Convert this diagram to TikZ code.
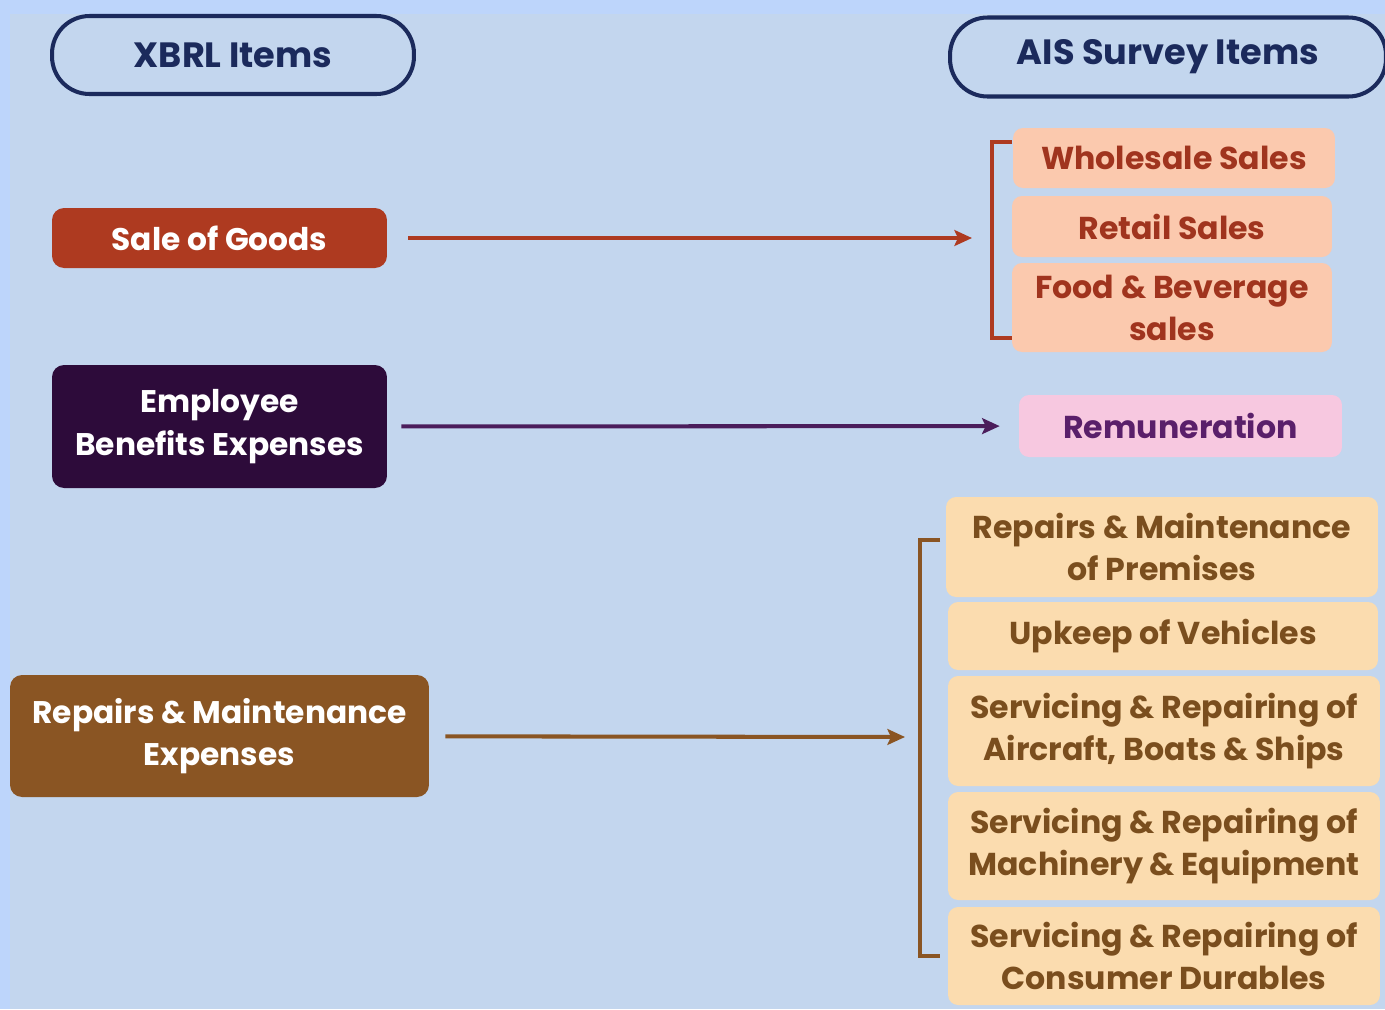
\documentclass[tikz,border=0pt]{standalone}
\usepackage{fontspec}
\setmainfont{Poppins}
\usetikzlibrary{arrows.meta}

\definecolor{skyback}{HTML}{BDD5FB}
\definecolor{panel}{HTML}{C3D6EE}
\definecolor{navy}{HTML}{1B2A5C}
\definecolor{goodsred}{HTML}{AE3A20}
\definecolor{peach}{HTML}{FBC9AE}
\definecolor{peachtext}{HTML}{A0341E}
\definecolor{plum}{HTML}{2D0B3A}
\definecolor{plumline}{HTML}{4B1D5B}
\definecolor{pink}{HTML}{F7C8E0}
\definecolor{pinktext}{HTML}{5A1F6A}
\definecolor{umber}{HTML}{8A5523}
\definecolor{cream}{HTML}{FBDCAF}
\definecolor{creamtext}{HTML}{7A4E1E}

\begin{document}
\begin{tikzpicture}[x=0.02cm,y=-0.02cm,
    head/.style={draw=navy,line width=2.3pt,rounded corners=0.75cm,text=navy,
        font=\bfseries\fontsize{20}{24}\selectfont},
    xbrl/.style={rounded corners=0.24cm,text=white,align=center,
        font=\bfseries\fontsize{17.8}{24}\selectfont},
    ais/.style={rounded corners=0.2cm,align=center,
        font=\bfseries\fontsize{18}{24}\selectfont},
    link/.style={-{Stealth[length=10pt,width=9pt,inset=2pt]},line width=2.3pt}]
    % Definitions
    \coordinate (XBRL)      at (233,55);
    \coordinate (AIS)       at (1168,57);
    \coordinate (Goods)     at (219.5,238);
    \coordinate (Employee)  at (219.5,426.5);
    \coordinate (Repairs)   at (219.5,736);
    \coordinate (Wholesale) at (1174,158);
    \coordinate (Retail)    at (1172,226.5);
    \coordinate (Food)      at (1172,307.5);
    \coordinate (Remun)     at (1180.5,426);
    \coordinate (Premises)  at (1162,547);
    \coordinate (Vehicles)  at (1163,636);
    \coordinate (Aircraft)  at (1164,731);
    \coordinate (Machinery) at (1164,846);
    \coordinate (Consumer)  at (1164,956);
    % Background
    \useasboundingbox (0,0) rectangle (1385,1009);
    \clip (0,0) rectangle (1385,1009);
    \fill[skyback] (0,0) rectangle (1385,1009);
    \fill[panel] (10,14) rectangle (1385,1009);
    % Headers
    \node(XH) at (XBRL) [head,minimum width=7.24cm,minimum height=1.56cm] {XBRL Items};
    \node(AH) at (AIS)  [head,minimum width=8.72cm,minimum height=1.58cm] {AIS Survey Items};
    % XBRL items
    \node(SG)  at (Goods)    [xbrl,fill=goodsred,minimum width=6.7cm,minimum height=1.2cm] {Sale of Goods};
    \node(EB)  at (Employee) [xbrl,fill=plum,minimum width=6.7cm,minimum height=2.46cm] {Employee\\Benefits Expenses};
    \node(RM)  at (Repairs)  [xbrl,fill=umber,minimum width=8.38cm,minimum height=2.44cm] {Repairs \& Maintenance\\Expenses};
    % AIS items
    \node(WS)  at (Wholesale) [ais,fill=peach,text=peachtext,minimum width=6.44cm,minimum height=1.2cm] {Wholesale Sales};
    \node(RS)  at (Retail)    [ais,fill=peach,text=peachtext,minimum width=6.4cm,minimum height=1.22cm] {Retail Sales};
    \node(FB)  at (Food)      [ais,fill=peach,text=peachtext,minimum width=6.4cm,minimum height=1.78cm] {Food \& Beverage\\sales};
    \node(RN)  at (Remun)     [ais,fill=pink,text=pinktext,minimum width=6.46cm,minimum height=1.24cm] {Remuneration};
    \node(RP)  at (Premises)  [ais,fill=cream,text=creamtext,minimum width=8.64cm,minimum height=2cm] {Repairs \& Maintenance\\of Premises};
    \node(UV)  at (Vehicles)  [ais,fill=cream,text=creamtext,minimum width=8.6cm,minimum height=1.36cm] {Upkeep of Vehicles};
    \node(SA)  at (Aircraft)  [ais,fill=cream,text=creamtext,minimum width=8.64cm,minimum height=2.2cm] {Servicing \& Repairing of\\Aircraft, Boats \& Ships};
    \node(SM)  at (Machinery) [ais,fill=cream,text=creamtext,minimum width=8.64cm,minimum height=2.16cm] {Servicing \& Repairing of\\Machinery \& Equipment};
    \node(SC)  at (Consumer)  [ais,fill=cream,text=creamtext,minimum width=8.64cm,minimum height=1.96cm] {Servicing \& Repairing of\\Consumer Durables};
    % Brackets
    \coordinate (B1) at (992,238);
    \coordinate (B3) at (920,737);
    \draw[goodsred,line width=2.3pt] (1012,142) -| (B1) |- (1012,338);
    \draw[umber,line width=2.3pt]    (940,540) -| (B3) |- (940,956);
    % Arrows
    \draw[link,goodsred,shorten <=0.42cm,shorten >=0.4cm] (SG) -- (B1);
    \draw[link,plumline,shorten <=0.28cm,shorten >=0.38cm] (EB) -- (RN);
    \draw[link,umber,shorten <=0.32cm,shorten >=0.3cm] (RM) -- (B3);
\end{tikzpicture}
\end{document}
